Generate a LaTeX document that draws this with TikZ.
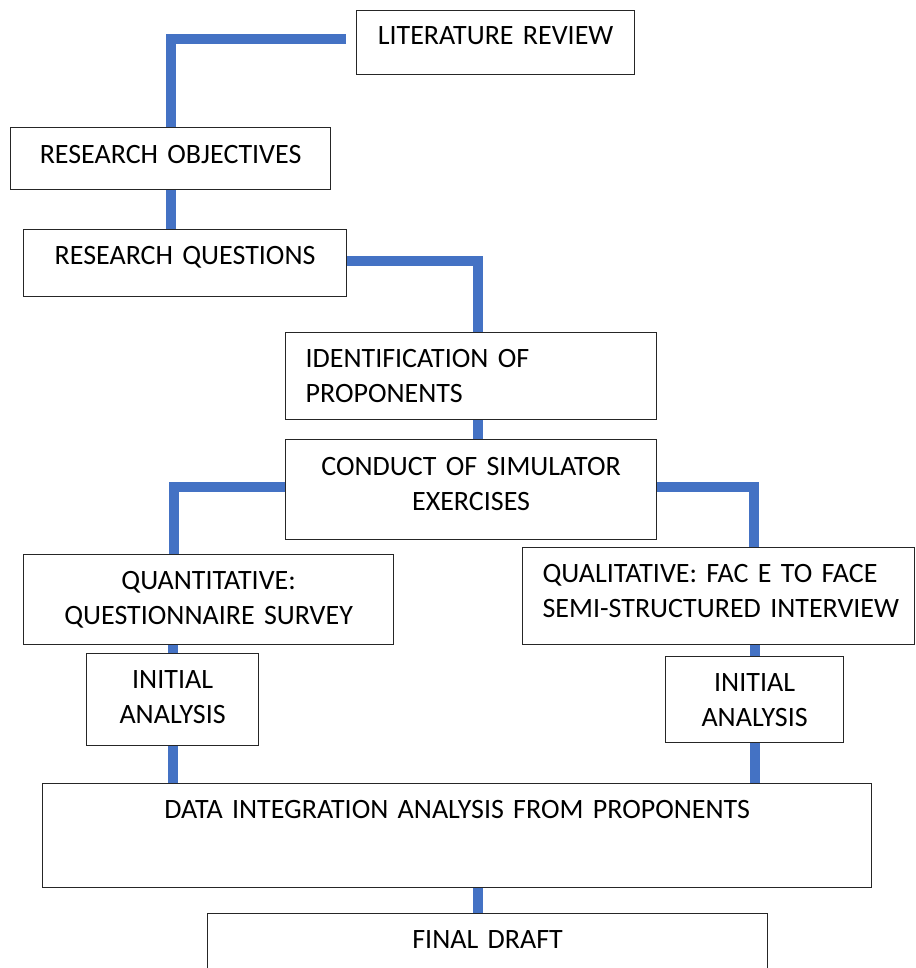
\documentclass[tikz,border=0pt]{standalone}
\usepackage{fontspec}
\setmainfont[WordSpace=0.85]{Carlito}
\usepackage{xcolor}
\usepackage{tikz}
\usetikzlibrary{calc}

\definecolor{linkblue}{HTML}{4472C4}

\begin{document}
\begin{tikzpicture}[x=1pt,y=-1pt,font=\fontsize{28}{35}\selectfont,
      box style/.style={rectangle,draw=black!85,line width=1.2pt,anchor=north west,
        inner xsep=0pt,inner ysep=0pt,align=center},
      left box style/.style={box style,align=left,inner xsep=20pt},
      link style/.style={draw=linkblue,line width=10pt}
      ]
      \clip[use as bounding box] (0,0) rectangle (915,968);

      \node[box style, text width=278pt, text height=34pt, text depth=30pt] (litrev) at (356,10) {LITERATURE REVIEW};
      \node[box style, text width=320pt, text height=36pt, text depth=26pt] (resobj) at (10,127) {RESEARCH OBJECTIVES};
      \node[box style, text width=323pt, text height=35pt, text depth=32pt] (resq) at (23,229) {RESEARCH QUESTIONS};

      \node[left box style, text width=331pt, text height=35pt, text depth=52pt] (ident) at (285,332) {IDENTIFICATION OF\\PROPONENTS};
      \node[box style, text width=371pt, text height=36pt, text depth=64pt] (conduct) at (285,439) {CONDUCT OF SIMULATOR\\EXERCISES};

      \node[box style, text width=370pt, text height=35pt, text depth=55pt] (quant) at (23,554) {QUANTITATIVE:\\QUESTIONNAIRE SURVEY};
      \node[left box style, text width=352pt, text height=35pt, text depth=62pt] (qual) at (522,547) {\mbox{QUALITATIVE: FAC E TO FACE}\\\mbox{SEMI-STRUCTURED INTERVIEW}};

      \node[box style, text width=172pt, text height=35pt, text depth=57pt] (inanl) at (86,653) {INITIAL\\ANALYSIS};
      \node[box style, text width=178pt, text height=35pt, text depth=51pt] (inanr) at (665,656) {INITIAL\\ANALYSIS};

      \node[box style, text width=829pt, text height=35pt, text depth=69pt] (dataint) at (42,783) {DATA INTEGRATION ANALYSIS FROM PROPONENTS};
      \node[box style, text width=560pt, text height=35pt, text depth=40pt] (final) at (207,913) {FINAL DRAFT};

      \coordinate (identin) at ([xshift=7pt]ident.north);
      \coordinate (identout) at ([xshift=7pt]ident.south);
      \coordinate (finalin) at ([xshift=-10pt]final.north);

      \draw[link style] ([xshift=-10pt,yshift=4pt]litrev.west) -| (resobj.north);
      \draw[link style] (resobj.south) -- (resobj.south |- resq.north);
      \draw[link style] ([yshift=2pt]resq.east) -| (identin);
      \draw[link style] (identout) -- (identout |- conduct.north);
      \draw[link style] ([yshift=3pt]conduct.west) -| ([xshift=-35pt]quant.north);
      \draw[link style] ([yshift=3pt]conduct.east) -| ([xshift=35pt]qual.north);
      \draw[link style] (inanl.north |- quant.south) -- (inanl.north);
      \draw[link style] (inanr.north |- qual.south) -- (inanr.north);
      \draw[link style] (inanl.south) -- (inanl.south |- dataint.north);
      \draw[link style] (inanr.south) -- (inanr.south |- dataint.north);
      \draw[link style] (finalin |- dataint.south) -- (finalin);

    \end{tikzpicture}
\end{document}
